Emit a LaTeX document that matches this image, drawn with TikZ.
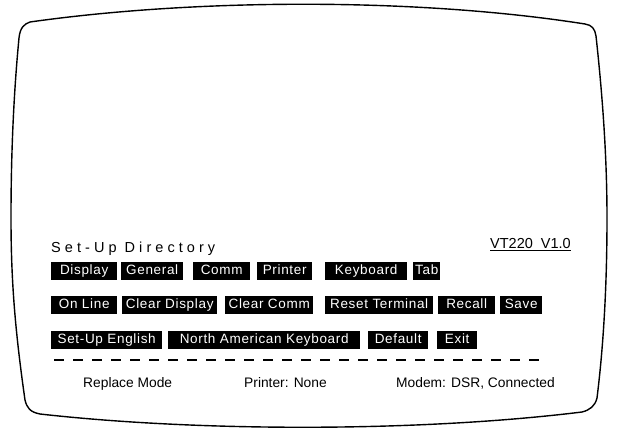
\documentclass[tikz,border=0pt]{standalone}
\usepackage{fontspec}
\setmainfont{Liberation Sans}
\begin{document}
\begin{tikzpicture}[x=1pt,y=-1pt,
  btn/.style={fill=black,text=white,font=\fontsize{13.5}{15}\selectfont\addfontfeature{LetterSpace=5},
    anchor=west,inner xsep=0pt,inner ysep=2.8pt,text height=10pt,text depth=3pt,align=center},
  plain/.style={anchor=base west,inner sep=0pt,font=\fontsize{13.8}{16}\selectfont},
  screen/.style={line width=1.4pt,line join=round}]
\useasboundingbox (0,0) rectangle (619,438);
% CRT screen outline
\draw[screen] (30,22) .. controls (200,-2) and (420,-2) .. (585,24)
  .. controls (592,25) and (595,29) .. (596,36)
  .. controls (603,100) and (607,160) .. (607,218)
  .. controls (607,290) and (603,350) .. (597,398)
  .. controls (595,406) and (590,410) .. (582,412)
  .. controls (420,432) and (200,432) .. (40,414)
  .. controls (30,412) and (27,408) .. (25,400)
  .. controls (15,330) and (11,280) .. (11,218)
  .. controls (11,150) and (14,90) .. (19,38)
  .. controls (20,28) and (24,24) .. (30,22) -- cycle;
% title
\node[plain,font=\fontsize{14.5}{16}\selectfont\addfontfeature{LetterSpace=28}] (title) at (51,253) {Set-Up Directory};
\node[plain,font=\fontsize{14.5}{16}\selectfont] (ver) at (490,249) {\underline{VT220\ \ V1.0}};
% row 1
\node[btn,minimum width=66pt] (b11) at (51,271) {Display};
\node[btn,minimum width=62pt] (b12) at (121,271) {General};
\node[btn,minimum width=57pt] (b13) at (193,271) {Comm};
\node[btn,minimum width=55pt] (b14) at (257,271) {Printer};
\node[btn,minimum width=82pt] (b15) at (325,271) {Keyboard};
\node[btn,minimum width=27pt] (b16) at (413,271) {Tab};
% row 2
\node[btn,minimum width=66pt] (b21) at (51,305) {On Line};
\node[btn,minimum width=95pt] (b22) at (122,305) {Clear Display};
\node[btn,minimum width=88pt] (b23) at (225,305) {Clear Comm};
\node[btn,minimum width=108pt] (b24) at (325,305) {Reset Terminal};
\node[btn,minimum width=57pt] (b25) at (438,305) {Recall};
\node[btn,minimum width=42pt] (b26) at (500,305) {Save};
% row 3
\node[btn,minimum width=111pt] (b31) at (51,340) {Set-Up English};
\node[btn,minimum width=192pt] (b32) at (168,340) {North American Keyboard};
\node[btn,minimum width=60pt] (b33) at (368,340) {Default};
\node[btn,minimum width=40pt] (b34) at (437,340) {Exit};
% dashed separator
\coordinate (dl) at (54,360);
\coordinate (dr) at (540,360);
\draw[line width=1.2pt,dash pattern=on 10pt off 9pt] (dl) -- (dr);
% status line
\node[plain] (s1) at (83,388) {Replace Mode};
\node[plain] (s2) at (244,388) {Printer: None};
\node[plain] (s3) at (396,388) {Modem: DSR, Connected};
\end{tikzpicture}
\end{document}
